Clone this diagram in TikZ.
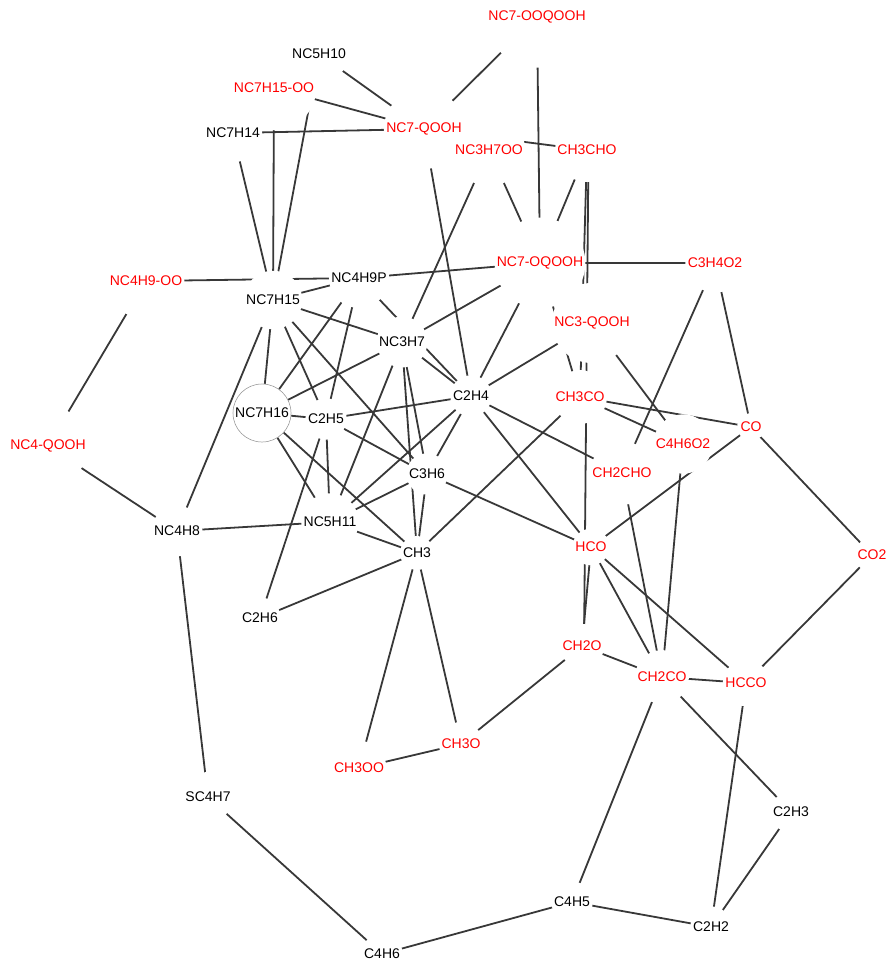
\documentclass[tikz,border=0pt]{standalone}
\usepackage{fontspec}
\setmainfont{Liberation Sans}
\usetikzlibrary{backgrounds,calc}

\begin{document}
\begin{tikzpicture}[x=1pt,y=-1pt,
    spc/.style={circle,inner sep=1.5pt,font=\fontsize{14}{16}\selectfont},
    redspc/.style={spc,text=red},
    link/.style={draw=black!78,line width=1.8pt}]
\useasboundingbox (0,0) rectangle (889,961);

% species, top half
\node[redspc] (nc7ooqooh) at (537,17)  {NC7-OOQOOH};
\node[spc]    (nc5h10)    at (319,54)  {NC5H10};
\node[redspc] (nc7h15oo)  at (274,88)  {NC7H15-OO};
\node[spc]    (nc7h14)    at (233,133) {NC7H14};
\node[redspc] (nc7qooh)   at (424,129) {NC7-QOOH};
\node[redspc] (nc3h7oo)   at (489,150) {NC3H7OO};
\node[redspc] (ch3cho)    at (587,150) {CH3CHO};
\node[redspc] (nc4h9oo)   at (146,281) {NC4H9-OO};
\node[spc]    (nc7h15)    at (273,300) {NC7H15};
\node[spc]    (nc4h9p)    at (359,278) {NC4H9P};
\node[redspc] (nc7oqooh)  at (540,263) {NC7-OQOOH};
\node[redspc] (c3h4o2)    at (715,263) {C3H4O2};
\node[redspc] (nc3qooh)   at (592,323) {NC3-QOOH};
\node[spc]    (nc3h7)     at (402,342) {NC3H7};
\node[spc]    (c2h4)      at (471,396) {C2H4};
\node[redspc] (ch3co)     at (580,397) {CH3CO};
\node[spc,draw=black!45,line width=0.5pt] (nc7h16) at (262,413) {NC7H16};
\node[spc]    (c2h5)      at (326,419) {C2H5};
\node[redspc] (c4h6o2)    at (683,444) {C4H6O2};
\node[redspc] (co)        at (751,427) {CO};
\node[redspc] (ch2cho)    at (622,473) {CH2CHO};
\node[spc]    (c3h6)      at (427,474) {C3H6};
\node[redspc] (nc4qooh)   at (48,446)  {NC4-QOOH};
% species, bottom half
\node[spc]    (nc4h8)     at (177,531) {NC4H8};
\node[spc]    (nc5h11)    at (330,522) {NC5H11};
\node[spc]    (ch3)       at (417,553) {CH3};
\node[redspc] (hco)       at (591,547) {HCO};
\node[redspc] (co2)       at (872,555) {CO2};
\node[spc]    (c2h6)      at (260,618) {C2H6};
\node[redspc] (ch2o)      at (582,646) {CH2O};
\node[redspc] (ch2co)     at (662,677) {CH2CO};
\node[redspc] (hcco)      at (746,683) {HCCO};
\node[redspc] (ch3o)      at (461,744) {CH3O};
\node[redspc] (ch3oo)     at (359,768) {CH3OO};
\node[spc]    (sc4h7)     at (208,797) {SC4H7};
\node[spc]    (c2h3)      at (791,812) {C2H3};
\node[spc]    (c4h5)      at (572,902) {C4H5};
\node[spc]    (c2h2)      at (711,927) {C2H2};
\node[spc]    (c4h6)      at (382,954) {C4H6};

\begin{scope}[on background layer]
\draw[link] (nc7ooqooh.center) -- (nc7qooh.center) (nc7ooqooh.center) -- (nc7oqooh.center);
\draw[link] (nc5h10.center) -- (nc7qooh.center) (nc5h10.center) -- (nc7h15.center);
\draw[link] (nc7h15oo.center) -- (nc7qooh.center) (nc7h15oo.center) -- (nc7h15.center);
\draw[link] (nc7h14.center) -- (nc7qooh.center) (nc7h14.center) -- (nc7h15.center);
\draw[link] (nc7qooh.center) -- (ch3cho.center) (nc7qooh.center) -- (c2h4.center);
\draw[link] (nc3h7oo.center) -- (nc3h7.center) (nc3h7oo.center) -- (nc7oqooh.center);
\draw[link] (ch3cho.center) -- (nc7oqooh.center) (ch3cho.center) -- (ch3co.center);
\draw[link] ([xshift=1.5pt]ch3cho.center) -- ([xshift=2pt]ch2o.center);
\draw[link] (nc4h9oo.center) -- (nc4h9p.center) (nc4h9oo.center) -- (nc4qooh.center);
\draw[link] (nc7h15.center) -- (nc4h9p.center) (nc7h15.center) -- (nc3h7.center)
            (nc7h15.center) -- (nc7h16.center) (nc7h15.center) -- (nc4h8.center)
            (nc7h15.center) -- (c2h5.center) (nc7h15.center) -- (c3h6.center);
\draw[link] (nc4h9p.center) -- (nc7oqooh.center) (nc4h9p.center) -- (nc7h16.center)
            (nc4h9p.center) -- (c2h5.center) (nc4h9p.center) -- (c2h4.center);
\draw[link] (nc7oqooh.center) -- (c3h4o2.center) (nc7oqooh.center) -- (nc3h7.center)
            (nc7oqooh.center) -- (c2h4.center) (nc7oqooh.center) -- (ch3co.center);
\draw[link] (c3h4o2.center) -- (ch2cho.center) (c3h4o2.center) -- (co.center);
\draw[link] (nc3qooh.center) -- (c2h4.center) (nc3qooh.center) -- (c4h6o2.center);
\draw[link] (nc3h7.center) -- (c2h4.center) (nc3h7.center) -- (nc7h16.center)
            (nc3h7.center) -- (nc5h11.center) (nc3h7.center) -- (c3h6.center)
            (nc3h7.center) -- (ch3.center);
\draw[link] (c2h4.center) -- (c2h5.center) (c2h4.center) -- (c3h6.center)
            (c2h4.center) -- (nc5h11.center) (c2h4.center) -- (ch2cho.center)
            (c2h4.center) -- (hco.center);
\draw[link] (ch3co.center) -- (co.center) (ch3co.center) -- (c4h6o2.center)
            (ch3co.center) -- (ch3.center);
\draw[link] (nc7h16.center) -- (c2h5.center) (nc7h16.center) -- (nc5h11.center)
            (nc7h16.center) -- (ch3.center);
\draw[link] (c2h5.center) -- (c3h6.center) (c2h5.center) -- (nc5h11.center)
            (c2h5.center) -- (c2h6.center);
\draw[link] (c3h6.center) -- (nc5h11.center) (c3h6.center) -- (ch3.center)
            (c3h6.center) -- (hco.center);
\draw[link] (nc4qooh.center) -- (nc4h8.center) (nc4h8.center) -- (nc5h11.center)
            (nc4h8.center) -- (sc4h7.center) (nc5h11.center) -- (ch3.center);
\draw[link] (ch3.center) -- (c2h6.center) (ch3.center) -- (ch3oo.center)
            (ch3.center) -- (ch3o.center);
\draw[link] (hco.center) -- (co.center) (hco.center) -- (ch2o.center)
            (hco.center) -- (ch2co.center) (hco.center) -- (hcco.center);
\draw[link] (ch2cho.center) -- (ch2co.center) (c4h6o2.center) -- (ch2co.center)
            (co.center) -- (co2.center) (co2.center) -- (hcco.center);
\draw[link] (ch2o.center) -- (ch2co.center) (ch2o.center) -- (ch3o.center)
            (ch2co.center) -- (hcco.center) (ch2co.center) -- (c4h5.center)
            (ch2co.center) -- (c2h3.center);
\draw[link] (hcco.center) -- (c2h2.center) (c2h3.center) -- (c2h2.center)
            (c4h5.center) -- (c2h2.center) (c4h5.center) -- (c4h6.center);
\draw[link] (sc4h7.center) -- (c4h6.center) (ch3oo.center) -- (ch3o.center);
% white discs under the labels
\foreach \s in {nc7ooqooh,nc5h10,nc7h15oo,nc7h14,nc7qooh,nc3h7oo,ch3cho,nc4h9oo,
    nc7h15,nc4h9p,nc7oqooh,c3h4o2,nc3qooh,nc3h7,c2h4,ch3co,nc7h16,c2h5,c4h6o2,co,
    ch2cho,c3h6,nc4qooh,nc4h8,nc5h11,ch3,hco,co2,c2h6,ch2o,ch2co,hcco,ch3o,ch3oo,
    sc4h7,c2h3,c4h5,c2h2,c4h6}
  \fill[white] let \p1=(\s.east), \p2=(\s.center) in (\p2) circle[radius=\x1-\x2];
\end{scope}
\end{tikzpicture}
\end{document}
